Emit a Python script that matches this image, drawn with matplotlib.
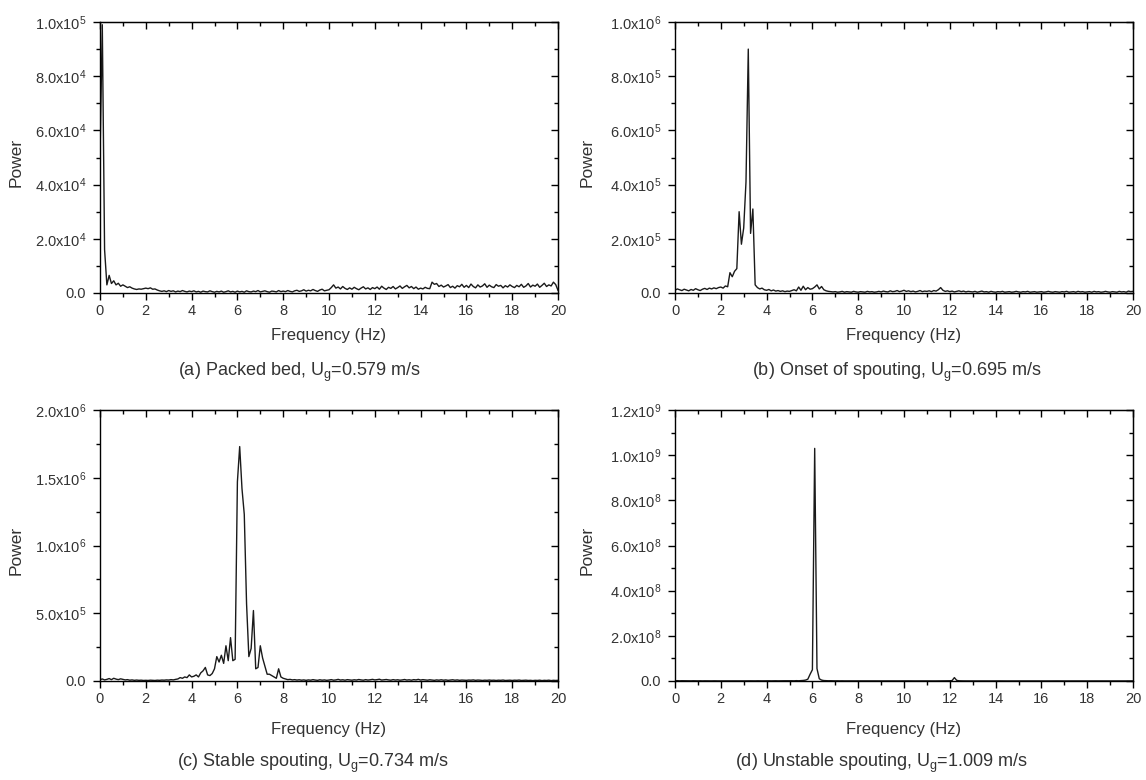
import numpy as np
import matplotlib.pyplot as plt
from matplotlib.ticker import MultipleLocator

plt.rcParams['font.family'] = ['Liberation Sans', 'DejaVu Sans']
plt.rcParams['mathtext.fontset'] = 'custom'
plt.rcParams['mathtext.rm'] = 'Liberation Sans'
plt.rcParams['mathtext.it'] = 'Liberation Sans:italic'

# frequency grid of the spectra (Hz), 0.1 Hz steps
freq = np.round(np.arange(0, 20.05, 0.1), 1)

# (a) packed bed, power in 1e3
power_a = [
    50, 99, 16, 3.0, 6.5, 3.5, 4.5, 3.0, 3.6, 2.5,
    3.0, 2.5, 2.0, 2.3, 1.8, 1.5, 1.3, 1.5, 1.4, 1.6,
    1.8, 1.6, 1.9, 1.4, 1.5, 1.1, 0.8, 0.6, 0.8, 0.5,
    0.9, 0.6, 0.8, 0.4, 0.7, 0.5, 0.9, 0.6, 0.4, 0.7,
    0.5, 0.8, 0.4, 0.6, 0.3, 0.7, 0.5, 0.4, 0.8, 0.5,
    0.3, 0.6, 0.4, 0.7, 0.3, 0.5, 0.8, 0.4, 0.6, 0.3,
    0.7, 0.4, 0.6, 0.3, 0.8, 0.5, 0.4, 0.7, 0.5, 0.9,
    0.4, 0.6, 0.8, 0.5, 0.3, 0.7, 0.6, 0.4, 0.9, 0.5,
    0.7, 0.5, 0.9, 0.6, 0.4, 0.8, 1.0, 0.6, 0.8, 1.2,
    0.7, 1.0, 0.8, 1.3, 0.9, 0.6, 1.1, 1.4, 0.8, 1.0,
    1.2, 2.0, 3.0, 1.8, 2.2, 1.5, 2.4, 1.7, 1.3, 1.9,
    1.4, 2.1, 1.6, 1.2, 1.8, 2.3, 1.5, 1.9, 1.3, 2.0,
    1.6, 2.2, 1.4, 2.5, 1.8, 1.3, 2.1, 1.7, 2.4, 1.5,
    2.0, 2.6, 1.7, 2.3, 2.8, 1.9, 2.4, 1.6, 2.2, 1.4,
    1.8, 1.5, 2.1, 1.7, 1.6, 4.0, 3.2, 3.5, 2.4, 2.9,
    2.2, 2.6, 3.1, 2.0, 2.5, 1.8, 2.7, 2.3, 3.2, 2.1,
    2.8, 2.0, 3.3, 2.4, 1.9, 3.0, 2.2, 2.6, 3.4, 2.1,
    2.9, 2.3, 2.0, 3.1, 2.5, 2.8, 1.9, 2.7, 2.2, 3.0,
    2.4, 2.0, 2.8, 2.3, 3.2, 2.1, 2.6, 3.5, 2.2, 2.9,
    2.5, 3.3, 2.1, 2.8, 3.6, 2.4, 3.0, 2.6, 4.0, 3.1,
    1.0,
]

# (b) onset of spouting, power in 1e4
power_b = [
    1.0, 1.5, 1.2, 0.9, 1.4, 1.1, 0.8, 1.3, 1.0, 1.6,
    1.2, 0.9, 1.4, 1.7, 1.3, 1.8, 1.5, 1.9, 1.6, 2.0,
    2.2, 1.8, 2.6, 2.3, 7.5, 6.0, 8.0, 9.0, 30.0, 18.0,
    24.0, 41.0, 90.0, 22.0, 31.0, 3.0, 2.0, 1.5, 1.8, 1.2,
    1.0, 1.3, 0.8, 1.1, 0.7, 0.9, 0.6, 0.8, 0.5, 0.7,
    0.6, 0.9, 1.2, 0.8, 2.2, 1.0, 2.5, 1.2, 2.0, 1.4,
    1.6, 2.2, 3.0, 1.5, 2.4, 1.2, 0.8, 0.6, 0.5, 0.4,
    0.5, 0.3, 0.4, 0.6, 0.3, 0.5, 0.4, 0.3, 0.6, 0.4,
    0.3, 0.5, 0.4, 0.3, 0.6, 0.4, 0.5, 0.3, 0.4, 0.6,
    0.4, 0.7, 0.5, 0.4, 0.8, 0.5, 0.6, 0.9, 0.5, 0.7,
    1.0, 0.6, 0.8, 0.5, 0.7, 0.4, 0.6, 0.9, 0.5, 0.7,
    0.6, 0.8, 0.5, 0.9, 0.7, 1.2, 2.0, 1.0, 0.6, 0.8,
    0.5, 0.7, 0.4, 0.6, 0.8, 0.5, 0.7, 0.4, 0.6, 0.5,
    0.4, 0.6, 0.3, 0.5, 0.7, 0.4, 0.5, 0.3, 0.6, 0.4,
    0.3, 0.5, 0.4, 0.6, 0.3, 0.4, 0.5, 0.3, 0.4, 0.6,
    0.4, 0.3, 0.5, 0.4, 0.6, 0.3, 0.4, 0.5, 0.3, 0.4,
    0.5, 0.3, 0.4, 0.6, 0.4, 0.3, 0.5, 0.4, 0.3, 0.5,
    0.4, 0.6, 0.3, 0.4, 0.5, 0.3, 0.6, 0.4, 0.5, 0.3,
    0.4, 0.5, 0.3, 0.6, 0.4, 0.5, 0.3, 0.4, 0.6, 0.4,
    0.3, 0.5, 0.4, 0.3, 0.6, 0.4, 0.5, 0.3, 0.7, 0.5,
    0.6,
]

# (c) stable spouting, power in 1e5
power_c = [
    0.10, 0.15, 0.08, 0.12, 0.18, 0.10, 0.20, 0.14, 0.10, 0.16,
    0.12, 0.08, 0.10, 0.06, 0.08, 0.05, 0.07, 0.05, 0.06, 0.04,
    0.05, 0.04, 0.06, 0.05, 0.04, 0.06, 0.05, 0.07, 0.06, 0.08,
    0.07, 0.10, 0.08, 0.12, 0.15, 0.25, 0.20, 0.30, 0.25, 0.45,
    0.30, 0.35, 0.45, 0.30, 0.60, 0.75, 1.00, 0.45, 0.40, 0.55,
    0.90, 1.80, 1.40, 1.90, 1.30, 2.60, 1.50, 3.20, 1.50, 1.60,
    14.7, 17.3, 14.2, 12.3, 5.70, 1.80, 2.40, 5.20, 0.90, 1.00,
    2.60, 1.70, 1.10, 0.50, 0.50, 0.40, 0.30, 0.20, 0.90, 0.30,
    0.20, 0.15, 0.10, 0.12, 0.08, 0.10, 0.07, 0.09, 0.06, 0.08,
    0.05, 0.08, 0.06, 0.10, 0.07, 0.05, 0.09, 0.06, 0.08, 0.05,
    0.07, 0.10, 0.06, 0.08, 0.12, 0.07, 0.09, 0.06, 0.10, 0.08,
    0.06, 0.09, 0.07, 0.11, 0.08, 0.06, 0.10, 0.07, 0.09, 0.12,
    0.08, 0.10, 0.13, 0.07, 0.09, 0.11, 0.08, 0.06, 0.10, 0.07,
    0.09, 0.06, 0.08, 0.11, 0.07, 0.09, 0.06, 0.10, 0.08, 0.12,
    0.07, 0.10, 0.08, 0.06, 0.09, 0.07, 0.05, 0.08, 0.06, 0.09,
    0.06, 0.08, 0.05, 0.07, 0.09, 0.06, 0.08, 0.05, 0.07, 0.06,
    0.05, 0.07, 0.06, 0.08, 0.05, 0.07, 0.06, 0.04, 0.06, 0.05,
    0.07, 0.05, 0.06, 0.04, 0.06, 0.05, 0.07, 0.04, 0.05, 0.06,
    0.04, 0.06, 0.05, 0.07, 0.04, 0.05, 0.06, 0.04, 0.05, 0.03,
    0.05, 0.04, 0.06, 0.03, 0.05, 0.04, 0.06, 0.03, 0.05, 0.04,
    0.05,
]

# (d) unstable spouting, power in 1e7
power_d = [
    0.10, 0.15, 0.08, 0.12, 0.10, 0.06, 0.09, 0.07, 0.11, 0.08,
    0.06, 0.09, 0.05, 0.08, 0.06, 0.07, 0.05, 0.08, 0.06, 0.05,
    0.07, 0.05, 0.06, 0.08, 0.05, 0.07, 0.06, 0.05, 0.08, 0.06,
    0.05, 0.07, 0.06, 0.08, 0.05, 0.06, 0.09, 0.07, 0.06, 0.08,
    0.07, 0.09, 0.06, 0.08, 0.10, 0.07, 0.09, 0.08, 0.11, 0.09,
    0.10, 0.12, 0.08, 0.15, 0.10, 0.18, 0.25, 0.40, 0.80, 3.00,
    5.00, 103.0, 5.50, 1.00, 0.40, 0.20, 0.15, 0.10, 0.12, 0.08,
    0.07, 0.09, 0.06, 0.08, 0.05, 0.07, 0.06, 0.05, 0.07, 0.05,
    0.06, 0.05, 0.07, 0.05, 0.06, 0.04, 0.06, 0.05, 0.04, 0.06,
    0.05, 0.04, 0.06, 0.05, 0.04, 0.05, 0.06, 0.04, 0.05, 0.04,
    0.05, 0.04, 0.06, 0.04, 0.05, 0.04, 0.05, 0.06, 0.04, 0.05,
    0.04, 0.05, 0.04, 0.06, 0.04, 0.05, 0.04, 0.05, 0.06, 0.08,
    0.10, 0.20, 1.50, 0.30, 0.10, 0.06, 0.05, 0.04, 0.05, 0.04,
    0.05, 0.04, 0.03, 0.05, 0.04, 0.03, 0.04, 0.05, 0.03, 0.04,
    0.03, 0.04, 0.05, 0.03, 0.04, 0.03, 0.04, 0.03, 0.05, 0.03,
    0.04, 0.03, 0.04, 0.03, 0.04, 0.05, 0.03, 0.04, 0.03, 0.04,
    0.03, 0.04, 0.03, 0.04, 0.03, 0.04, 0.03, 0.05, 0.03, 0.04,
    0.03, 0.04, 0.03, 0.04, 0.03, 0.04, 0.03, 0.04, 0.03, 0.04,
    0.03, 0.04, 0.03, 0.04, 0.03, 0.04, 0.03, 0.04, 0.03, 0.04,
    0.03, 0.04, 0.03, 0.04, 0.03, 0.04, 0.03, 0.04, 0.03, 0.04,
    0.03,
]

powers = [np.array(power_a) * 1e3, np.array(power_b) * 1e4,
          np.array(power_c) * 1e5, np.array(power_d) * 1e7]

yticks = [
    [0, 2e4, 4e4, 6e4, 8e4, 1e5],
    [0, 2e5, 4e5, 6e5, 8e5, 1e6],
    [0, 5e5, 1e6, 1.5e6, 2e6],
    [0, 2e8, 4e8, 6e8, 8e8, 1e9, 1.2e9],
]
ylabels = [
    ['0.0', '2.0x10$^4$', '4.0x10$^4$', '6.0x10$^4$', '8.0x10$^4$', '1.0x10$^5$'],
    ['0.0', '2.0x10$^5$', '4.0x10$^5$', '6.0x10$^5$', '8.0x10$^5$', '1.0x10$^6$'],
    ['0.0', '5.0x10$^5$', '1.0x10$^6$', '1.5x10$^6$', '2.0x10$^6$'],
    ['0.0', '2.0x10$^8$', '4.0x10$^8$', '6.0x10$^8$', '8.0x10$^8$', '1.0x10$^9$', '1.2x10$^9$'],
]
yminor = [1e4, 1e5, 2.5e5, 1e8]

captions = [
    '(a) Packed bed, U$_\\mathrm{g}$=0.579 m/s',
    '(b) Onset of spouting, U$_\\mathrm{g}$=0.695 m/s',
    '(c) Stable spouting, U$_\\mathrm{g}$=0.734 m/s',
    '(d) Unstable spouting, U$_\\mathrm{g}$=1.009 m/s',
]

W, H = 1146, 780
fig = plt.figure(figsize=(W / 100, H / 100), dpi=100)

# left / top of each axes box in pixels
boxes = [(100, 22), (675, 22), (100, 410), (675, 410)]
aw, ah = 458, 271
cap_pos = [(178, 376), (752, 376), (177, 767), (735, 767)]
txt = '#333333'

for i in range(4):
    l, t = boxes[i]
    ax = fig.add_axes([l / W, 1 - (t + ah) / H, aw / W, ah / H])
    ax.plot(freq, powers[i], color='#1a1a1a', lw=1.0)
    ax.set_xlim(0, 20)
    ax.set_ylim(0, yticks[i][-1])
    ax.set_xticks(np.arange(0, 21, 2))
    ax.xaxis.set_minor_locator(MultipleLocator(1))
    ax.set_yticks(yticks[i])
    ax.set_yticklabels(ylabels[i])
    ax.yaxis.set_minor_locator(MultipleLocator(yminor[i]))
    ax.tick_params(which='both', direction='out', top=False, right=False,
                   labelsize=10.5, labelcolor=txt, width=1)
    ax.tick_params(axis='x', pad=3)
    ax.tick_params(axis='y', pad=5)
    ax.tick_params(which='major', length=5)
    ax.tick_params(which='minor', length=3)
    for s in ax.spines.values():
        s.set_linewidth(1)

    # inward ticks on the top and right frame
    sx = ax.secondary_xaxis('top')
    sx.set_xticks(np.arange(0, 21, 2))
    sx.xaxis.set_minor_locator(MultipleLocator(1))
    sx.tick_params(which='both', direction='in', labeltop=False, width=1)
    sx.tick_params(which='major', length=5)
    sx.tick_params(which='minor', length=3)
    sy = ax.secondary_yaxis('right')
    sy.set_yticks(yticks[i])
    sy.yaxis.set_minor_locator(MultipleLocator(yminor[i]))
    sy.tick_params(which='both', direction='in', labelright=False, width=1)
    sy.tick_params(which='major', length=5)
    sy.tick_params(which='minor', length=3)

    ax.set_xlabel('Frequency (Hz)', fontsize=12, color=txt)
    ax.xaxis.set_label_coords(0.5, -0.129 if i < 2 else -0.151)
    ax.set_ylabel('Power', fontsize=12.5, color=txt)
    ax.yaxis.set_label_coords(-0.166 if i % 2 == 0 else -0.175, 0.48)

    cx, cy = cap_pos[i]
    fig.text(cx / W, 1 - cy / H, captions[i], fontsize=13, color=txt,
             ha='left', va='baseline')

fig.savefig('out.png', dpi=100)
